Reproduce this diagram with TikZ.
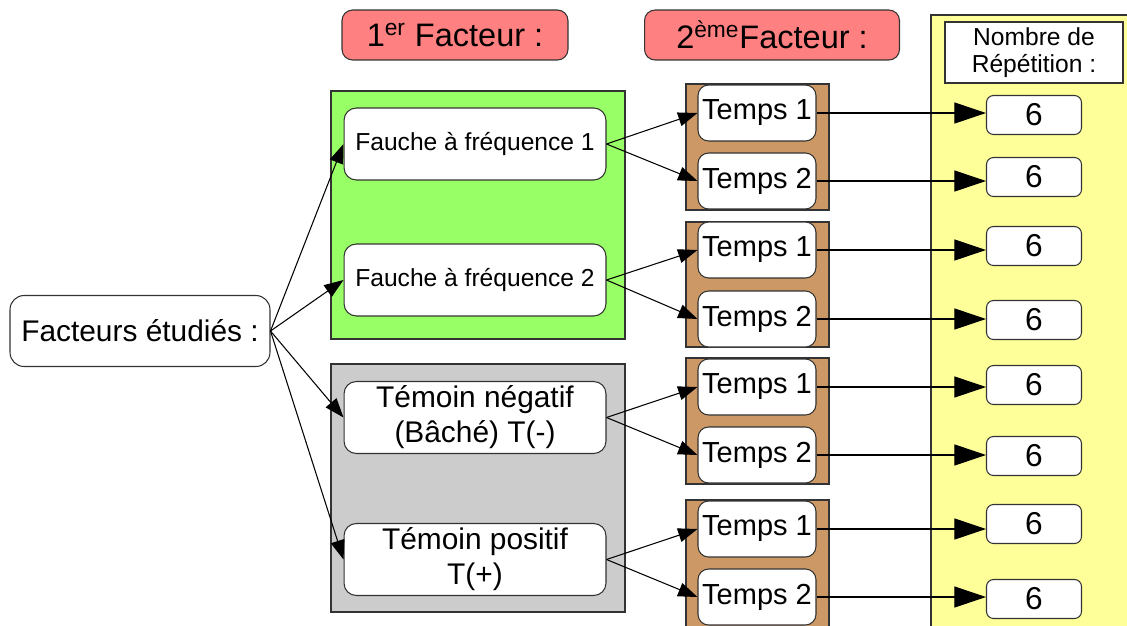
\documentclass[tikz,border=0pt]{standalone}
\usepackage{fontspec}
\setmainfont{Liberation Sans}
\usetikzlibrary{%
	arrows.meta,%
	positioning%
}
\definecolor{rouge}{HTML}{FF8080}
\definecolor{vert}{HTML}{99FF66}
\definecolor{gris}{HTML}{CCCCCC}
\definecolor{brun}{HTML}{CC9966}
\definecolor{jaune}{HTML}{FFFF99}
\definecolor{bord}{HTML}{333333}
\tikzstyle{box}=[draw=bord, fill=white, rounded corners=6pt, align=center, inner sep=0pt, line width=0.6pt]
\tikzstyle{header}=[box, fill=rouge, minimum width=4.52cm, minimum height=1cm, font=\fontsize{18.5}{22}\selectfont]
\tikzstyle{trait}=[box, rounded corners=7pt, minimum width=5.24cm, minimum height=1.44cm, font=\fontsize{17}{20}\selectfont]
\tikzstyle{temps}=[box, minimum width=2.36cm, minimum height=1.12cm, font=\fontsize{16.5}{19}\selectfont]
\tikzstyle{rep}=[box, rounded corners=4pt, minimum width=1.9cm, minimum height=0.78cm, font=\fontsize{18}{20}\selectfont]
\tikzstyle{panel}=[draw=bord, line width=0.6pt]
\tikzstyle{fleche}=[draw, line width=0.6pt, -{Triangle[length=11pt,width=8pt]}]
\tikzstyle{grandefleche}=[draw, line width=0.6pt, -{Triangle[length=18pt,width=12pt]}]

\begin{document}
\begin{tikzpicture}[x=0.02cm, y=-0.02cm]
	\useasboundingbox (0,0) rectangle (1127,626);
	
	% fonds
	\draw[panel, fill=jaune] (931,15) rectangle (1140,640);
	\draw[panel, fill=vert] (331,91) rectangle (625,339);
	\draw[panel, fill=gris] (331,364) rectangle (625,612);
	\foreach \y/\z in {84/210, 222/347, 358/484, 500/640}
	\draw[panel, fill=brun] (686,\y) rectangle (829,\z);
	
	% titres
	\node[header] (fac1) at (455,35) {1\textsuperscript{er} Facteur :};
	\node[header, minimum width=5.1cm] (fac2) at (772,35) {2\textsuperscript{ème}Facteur :};
	\node[box, rounded corners=0pt, minimum width=3.56cm, minimum height=1.22cm, font=\fontsize{14}{15}\selectfont] (nombre) at (1034,52.5) {Nombre de\\Répétition :};
	
	\node[box, rounded corners=8pt, minimum width=5.2cm, minimum height=1.42cm, font=\fontsize{17}{20}\selectfont] (facteurs) at (140,331) {Facteurs étudiés :};
	
	% traitements
	\node[trait, font=\fontsize{14}{16}\selectfont] (f1) at (475,144) {Fauche à fréquence 1};
	\node[trait, font=\fontsize{14}{16}\selectfont] (f2) at (475,280) {Fauche à fréquence 2};
	\node[trait] (tn) at (475,417.5) {Témoin négatif\\(Bâché) T(-)};
	\node[trait] (tp) at (475,559.5) {Témoin positif\\T(+)};
	
	% temps et repetitions
	\foreach \i/\y/\n in {1/113/1, 2/181/2, 3/250/1, 4/319/2, 5/387/1, 6/455/2, 7/529/1, 8/597/2}
	\node[temps] (t\i) at (757,\y) {Temps \n};
	\foreach \i/\y in {1/115, 2/177, 3/246, 4/320, 5/385, 6/456, 7/524, 8/599}
	\node[rep] (r\i) at (1034,\y) {6};
	
	% fleches
	\foreach \b in {f1,f2,tn,tp}
	\draw[fleche] (facteurs.east) -- (\b.west);
	\foreach \b/\i/\j in {f1/1/2, f2/3/4, tn/5/6, tp/7/8}{
		\draw[fleche] (\b.east) -- (t\i.west);
		\draw[fleche] (\b.east) -- (t\j.west);
	}
	\foreach \i in {1,...,8}
	\draw[grandefleche] (t\i.east) -- (t\i.east -| r\i.west);
\end{tikzpicture}
\end{document}
